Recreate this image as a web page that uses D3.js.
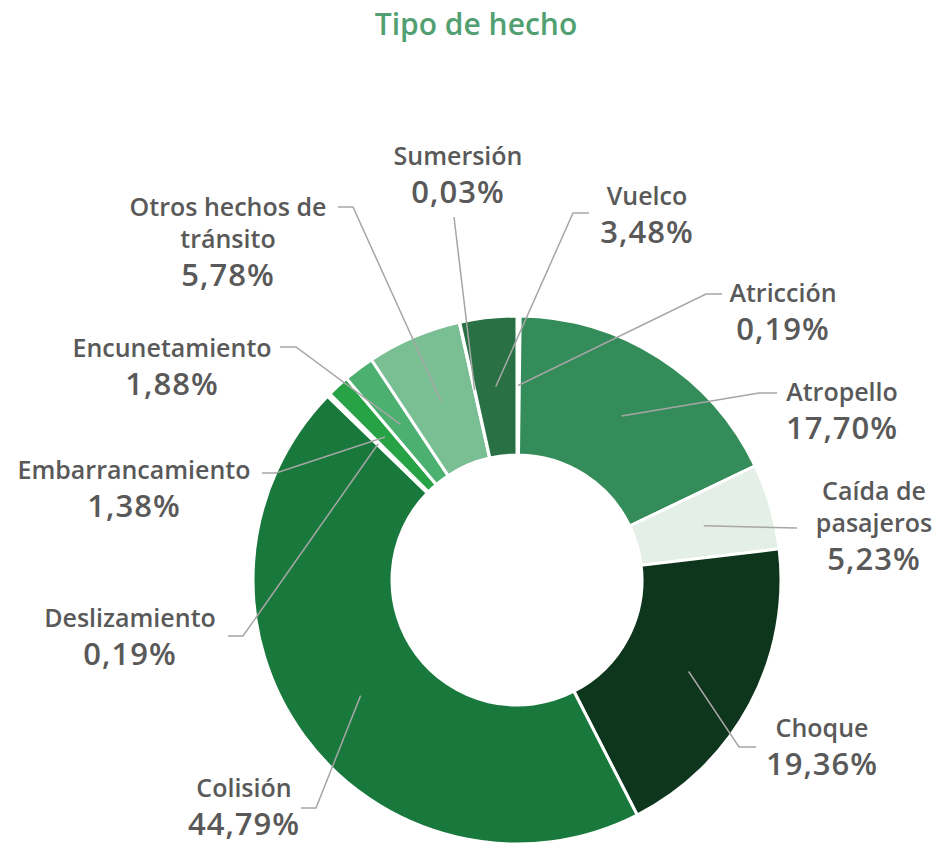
<!DOCTYPE html>
<html>
<head>
<meta charset="utf-8">
<script src="https://cdn.jsdelivr.net/npm/d3@7"></script>
<style>
  body { margin: 0; background: #fff; }
  text { font-family: "Open Sans", sans-serif; font-weight: 600; }
</style>
</head>
<body>
<svg width="939" height="845"></svg>
<script>
var categories = ["Atricción", "Atropello", "Caída de pasajeros", "Choque", "Colisión", "Deslizamiento",
	"Embarrancamiento", "Encunetamiento", "Otros hechos de tránsito", "Sumersión", "Vuelco"],
	values = [0.19, 17.70, 5.23, 19.36, 44.79, 0.19, 1.38, 1.88, 5.78, 0.03, 3.48],
	pctLabels = ["0,19%", "17,70%", "5,23%", "19,36%", "44,79%", "0,19%", "1,38%", "1,88%", "5,78%", "0,03%", "3,48%"],
	nameLines = [["Atricción"], ["Atropello"], ["Caída de", "pasajeros"], ["Choque"], ["Colisión"], ["Deslizamiento"],
	["Embarrancamiento"], ["Encunetamiento"], ["Otros hechos de", "tránsito"], ["Sumersión"], ["Vuelco"]],
	colors = ["#ffffff", "#348c5b", "#e4efe7", "#0e361d", "#19793d", "#ffffff",
	"#27a345", "#4cb070", "#7abf94", "#ffffff", "#2a7045"];

// label placement: text centre x, first baseline, leader start and elbow x
var labelPos = [
	{x: 783, y: 302, lx: 722, ly: 294, ex: 706},
	{x: 842, y: 401, lx: 777, ly: 393, ex: 759},
	{x: 874, y: 500, lx: 797, ly: 528, ex: 797},
	{x: 822, y: 737, lx: 756, ly: 747, ex: 739},
	{x: 244, y: 797, lx: 301, ly: 808, ex: 316},
	{x: 130, y: 627, lx: 228, ly: 636, ex: 243},
	{x: 134, y: 479, lx: 262, ly: 473, ex: 276},
	{x: 172, y: 357, lx: 280, ly: 347, ex: 296},
	{x: 228, y: 216, lx: 338, ly: 207, ex: 353},
	{x: 458, y: 165, lx: 454, ly: 217, ex: 454},
	{x: 647, y: 205, lx: 589, ly: 213, ex: 573}
];

var svg = d3.select('svg'),
	cx = 517, cy = 580, outerR = 264, innerR = 125;

svg.append('text')
	.attr('x', 476).attr('y', 35)
	.attr('text-anchor', 'middle')
	.attr('font-size', 30)
	.attr('fill', '#52a072')
	.text('Tipo de hecho');

var pie = d3.pie().sort(null).value(function(d){ return d; }),
	arc = d3.arc().innerRadius(innerR).outerRadius(outerR),
	arcs = pie(values);

var g = svg.append('g').attr('transform', 'translate(' + cx + ',' + cy + ')');

g.selectAll('path')
	.data(arcs)
	.enter().append('path')
	.attr('d', arc)
	.attr('fill', function(d, i){ return colors[i]; })
	.attr('stroke', '#fff')
	.attr('stroke-width', 3);

// leader lines
arcs.forEach(function(a, i){
	var c = arc.centroid(a), p = labelPos[i];
	svg.append('polyline')
		.attr('points', [[p.lx, p.ly], [p.ex, p.ly], [c[0] + cx, c[1] + cy]].join(' '))
		.attr('fill', 'none')
		.attr('stroke', '#a6a6a6')
		.attr('stroke-width', 1.5);
});

var labels = svg.selectAll('g.lbl')
	.data(arcs)
	.enter().append('g')
	.attr('class', 'lbl');

labels.each(function(a, i){
	var sel = d3.select(this), p = labelPos[i], lines = nameLines[i];
	lines.forEach(function(t, j){
		sel.append('text')
			.attr('x', p.x).attr('y', p.y + j * 32)
			.attr('text-anchor', 'middle')
			.attr('font-size', 25)
			.attr('fill', '#595959')
			.text(t);
	});
	sel.append('text')
		.attr('x', p.x).attr('y', p.y + (lines.length - 1) * 32 + 38)
		.attr('text-anchor', 'middle')
		.attr('font-size', 31)
		.attr('letter-spacing', 1)
		.attr('fill', '#595959')
		.text(pctLabels[i]);
});
</script>
</body>
</html>
